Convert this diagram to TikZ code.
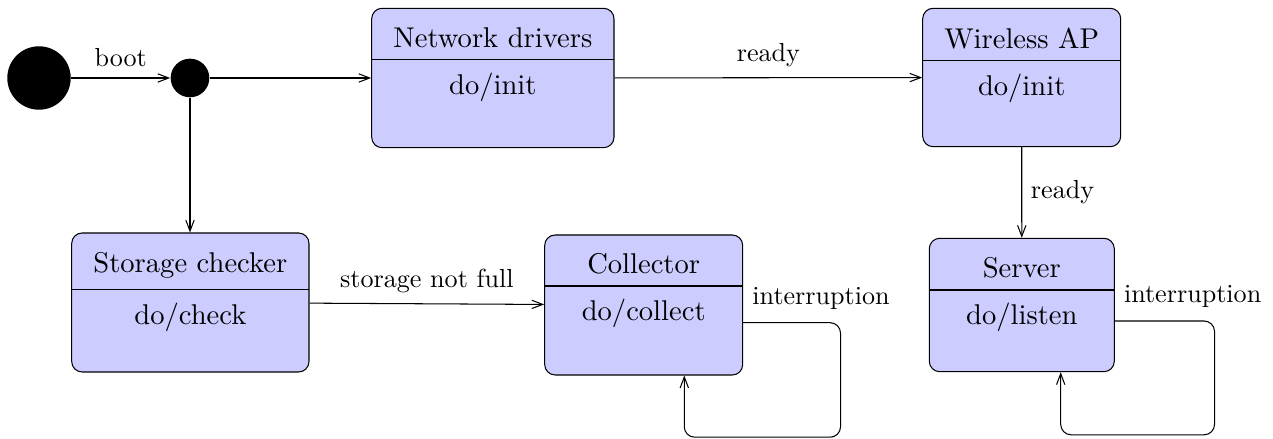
\documentclass[tikz,border=0pt]{standalone}
\usetikzlibrary{fit,calc,arrows.meta}
\tikzset{
  x=0.3831pt, y=-0.3831pt,
  >={Straight Barb[length=4.2pt,width=3.2pt]},
  statebox/.style={draw, fill=blue!20, rounded corners=4pt, inner sep=0pt},
  statetitle/.style={inner sep=0pt, anchor=south, font=\fontsize{10.95}{13.6}\selectfont},
  statebody/.style={inner sep=0pt, anchor=base, font=\fontsize{10.95}{13.6}\selectfont},
  initdot/.style={circle, fill=black, inner sep=0pt, minimum size=24.3pt},
  forkdot/.style={circle, fill=black, inner sep=0pt, minimum size=14.8pt},
  trans/.style={->},
  lab/.style={above=0.75pt},
  looplab/.style={anchor=south west, yshift=1.5pt},
  loopline/.style={->, rounded corners=4pt}
}
% a UML state: name, left, top, right, bottom, divider height, title, activity
\newcommand{\umlstate}[8]{%
  \node[statebox, fit={(#2,#3) (#4,#5)}] (#1) {};
  \draw (#2,#6) -- (#4,#6);
  \node[statetitle] (#1-title) at ({(#2+#4)/2},{#6-11}) {#7};
  \node[statebody] (#1-body) at ({(#2+#4)/2},{#6+35}) {#8};
}
\begin{document}
\begin{tikzpicture}
\useasboundingbox (0,0) rectangle (1273,439);

\node[initdot] (init) at (39,78) {};
\node[forkdot] (fork) at (190,78) {};

\umlstate{nd}{371.7}{8.3}{614}{147.7}{59.3}{Network drivers}{do/init}
\umlstate{wap}{922.7}{8.3}{1120.7}{146.7}{60.3}{Wireless AP}{do/init}
\umlstate{sc}{71.7}{233}{309}{372}{289.5}{Storage checker}{do/check}
\umlstate{col}{544.7}{235}{742.7}{375}{286}{Collector}{do/collect}
\umlstate{srv}{929.3}{238.3}{1114.3}{371.7}{290}{Server}{do/listen}

\draw[trans] (init) -- node[lab] {boot} (fork);
\draw[trans] (fork) -- (nd);
\draw[trans] (fork) -- (fork |- sc.north);
\draw[trans] (nd) -- node[lab] {ready} (wap);
\draw[trans] (wap) -- node[right] {ready} (srv);
\draw[trans] (sc) -- node[lab] {storage not full} (col);

% self transitions
\draw[loopline] ($(col.east)+(0,17.7)$) node[looplab] {interruption}
  -- ++(97.3,0) |- ($(col.south)+(40.6,61.7)$) -- ($(col.south)+(40.6,0)$);
\draw[loopline] ($(srv.east)+(0,16)$) node[looplab] {interruption}
  -- ++(99.7,0) |- ($(srv.south)+(38.9,62.6)$) -- ($(srv.south)+(38.9,0)$);
\end{tikzpicture}
\end{document}
